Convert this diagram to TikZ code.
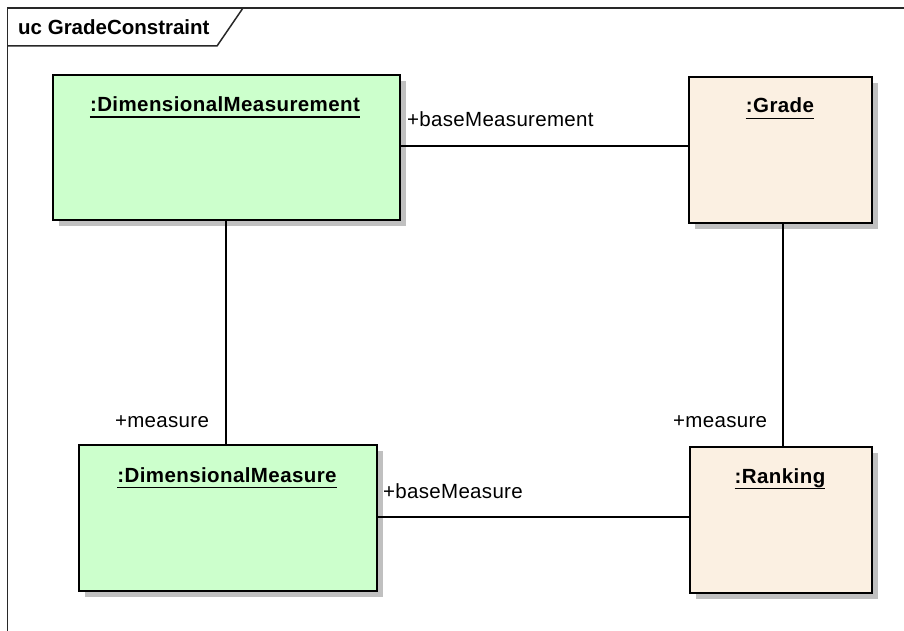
\documentclass[tikz,border=0pt]{standalone}
\usepackage{fontspec}
\setmainfont{Liberation Sans}
\usetikzlibrary{shadows}
\definecolor{objgreen}{RGB}{204,255,204}
\definecolor{objtan}{RGB}{251,240,226}
\definecolor{shadowgray}{RGB}{192,192,192}
\definecolor{framegray}{RGB}{40,40,40}
\begin{document}
\begin{tikzpicture}[x=1pt,y=-1pt,
  objbox/.style={draw=black, line width=1.6pt, inner sep=0pt, anchor=north west,
    drop shadow={shadow xshift=6pt, shadow yshift=-6pt, fill=shadowgray, opacity=1}},
  objtitle/.style={inner sep=0pt, anchor=base,
    font=\fontsize{20.5}{24}\selectfont\bfseries\addfontfeature{LetterSpace=2}},
  rolelabel/.style={inner sep=0pt, anchor=base,
    font=\fontsize{20.5}{24}\selectfont\addfontfeature{LetterSpace=1.5}},
  link/.style={line width=1.4pt},
  frameline/.style={draw=framegray, line width=1.5pt}]
\useasboundingbox (0,0) rectangle (904,631);

% diagram frame and its name tab
\draw[frameline] (7.5,631) -- (7.5,8) -- (904,8);
\draw[frameline] (7.5,46) -- (217,46) -- (243,8);
\node[inner sep=0pt, anchor=base west, font=\fontsize{20.5}{24}\selectfont\bfseries] (frametitle) at (18,35) {uc GradeConstraint};

% object instances
\node[objbox, fill=objgreen, minimum width=347pt, minimum height=145pt] (dmt) at (52,74) {};
\node[objbox, fill=objtan, minimum width=183pt, minimum height=146pt] (grade) at (688,76) {};
\node[objbox, fill=objgreen, minimum width=298pt, minimum height=146pt] (dms) at (78,444) {};
\node[objbox, fill=objtan, minimum width=182pt, minimum height=146pt] (rank) at (689,446) {};

% instance names, underlined
\node[objtitle] (dmtname) at (225,111.5) {:DimensionalMeasurement};
\node[objtitle] (gradename) at (780,113) {:Grade};
\node[objtitle] (dmsname) at (227,482) {:DimensionalMeasure};
\node[objtitle] (rankname) at (780,483) {:Ranking};
\foreach \n in {dmtname,gradename,dmsname,rankname}
  \draw[line width=1.4pt] ([yshift=-5.5pt]\n.base west) -- ([yshift=-5.5pt]\n.base east);

% links between instances
\draw[link] (dmt.east |- 0,146) -- (grade.west |- 0,146);
\draw[link] (dmt.south -| 226,0) -- (dms.north -| 226,0);
\draw[link] (grade.south -| 783,0) -- (rank.north -| 783,0);
\draw[link] (dms.east |- 0,517) -- (rank.west |- 0,517);

% role names
\node[rolelabel, anchor=base west] (rbm) at (407,127) {+baseMeasurement};
\node[rolelabel] (rm1) at (162,427) {+measure};
\node[rolelabel, anchor=base west] (rm2) at (673,427) {+measure};
\node[rolelabel, anchor=base west] (rbms) at (383,498) {+baseMeasure};
\end{tikzpicture}
\end{document}
